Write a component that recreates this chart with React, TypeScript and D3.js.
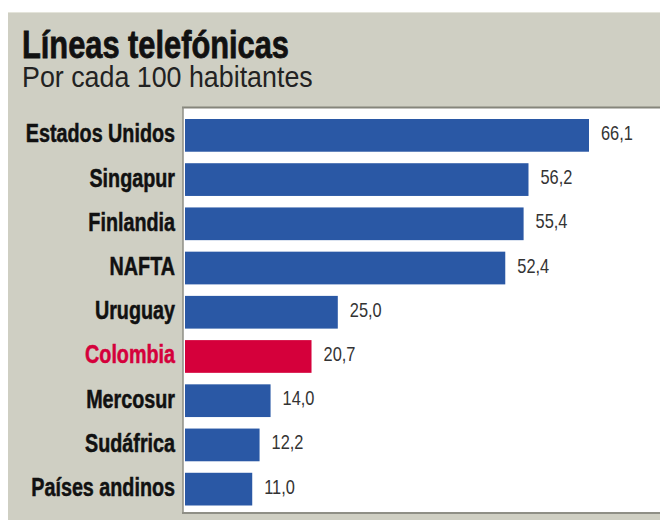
import React from "react";
import * as d3 from "d3";

const categories = [
  "Estados Unidos",
  "Singapur",
  "Finlandia",
  "NAFTA",
  "Uruguay",
  "Colombia",
  "Mercosur",
  "Sudáfrica",
  "Países andinos",
];
const values = [66.1, 56.2, 55.4, 52.4, 25.0, 20.7, 14.0, 12.2, 11.0];
const highlight = "Colombia";

const title = "Líneas telefónicas";
const subtitle = "Por cada 100 habitantes";

const W = 660;
const H = 520;
const FONT = "'Liberation Sans', Arial, sans-serif";
const BG = "#cfcfc3";
const BLUE = "#2a58a5";
const RED = "#d5003b";

function CText(props: {
  x: number;
  y: number;
  sx: number;
  size: number;
  weight?: string;
  fill: string;
  stroke?: number;
  anchor?: "start" | "end";
  children: React.ReactNode;
}) {
  return (
    <text
      transform={`translate(${props.x},${props.y}) scale(${props.sx},1)`}
      textAnchor={props.anchor || "start"}
      fontFamily={FONT}
      fontWeight={props.weight || "normal"}
      fontSize={props.size}
      fill={props.fill}
      stroke={props.stroke ? props.fill : "none"}
      strokeWidth={props.stroke || 0}
    >
      {props.children}
    </text>
  );
}

export default function App() {
  const x = d3.scaleLinear().domain([0, 66.1]).range([185, 589]);
  const y = d3
    .scaleBand<string>()
    .domain(categories)
    .range([119, 505.5])
    .paddingInner(0.26)
    .paddingOuter(0);
  const fmt = (v: number) => d3.format(".1f")(v).replace(".", ",");

  return (
    <svg
      width={W}
      height={H}
      style={{ position: "absolute", left: 0, top: 0, display: "block" }}
    >
      <rect x={0} y={0} width={W} height={H} fill="#fff" />
      <rect x={8} y={12} width={W - 8} height={H - 12} fill={BG} />
      <line x1={8} x2={W} y1={12.5} y2={12.5} stroke="#e4e4da" strokeWidth={1} />
      {/* white plot panel */}
      <rect x={183} y={108} width={W - 183} height={405} fill="#fff" />
      <line x1={182} x2={W} y1={107.5} y2={107.5} stroke="#85857b" strokeWidth={2} />
      <line x1={183} x2={183} y1={107} y2={514} stroke="#8f8f86" strokeWidth={1.5} />
      <line x1={182} x2={W} y1={513} y2={513} stroke="#8f8f86" strokeWidth={2} />

      <CText x={22} y={58} sx={0.79} size={39} weight="bold" fill="#111" stroke={0.8}>
        {title}
      </CText>
      <CText x={22} y={87} sx={0.925} size={29} fill="#222">
        {subtitle}
      </CText>

      {categories.map((c, i) => {
        const yy = y(c)!;
        const cy = yy + y.bandwidth() / 2;
        const isHl = c === highlight;
        return (
          <g key={c}>
            <rect
              x={x(0)}
              y={yy}
              width={x(values[i]) - x(0)}
              height={y.bandwidth()}
              fill={isHl ? RED : BLUE}
            />
            <CText
              x={175}
              y={cy + 7}
              sx={0.79}
              size={25}
              weight="bold"
              anchor="end"
              fill={isHl ? RED : "#111"}
              stroke={0.5}
            >
              {c}
            </CText>
            <CText x={x(values[i]) + 12} y={cy + 4.5} sx={0.82} size={20} fill="#333">
              {fmt(values[i])}
            </CText>
          </g>
        );
      })}
    </svg>
  );
}
